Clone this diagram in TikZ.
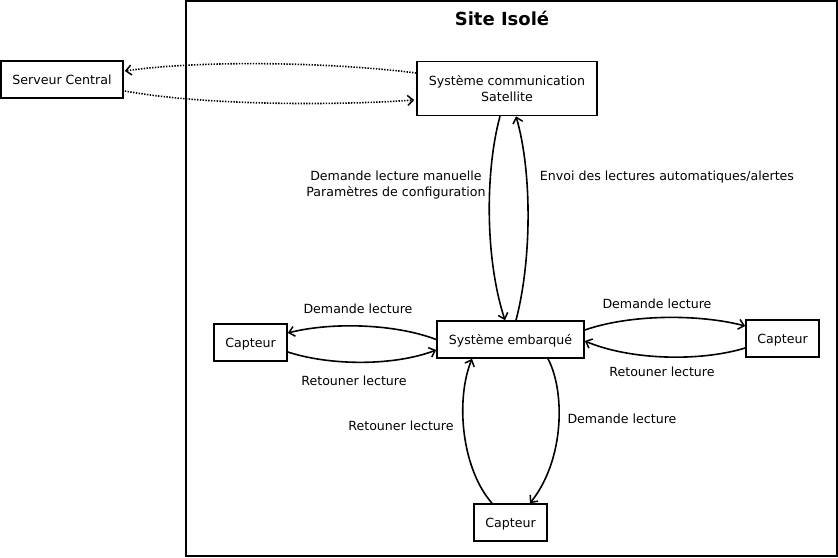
\documentclass[tikz,border=0pt]{standalone}
\usepackage{fontspec}
\setmainfont{DejaVu Sans}
\usetikzlibrary{arrows.meta,calc}
\begin{document}
\begin{tikzpicture}[x=1pt,y=-1pt,
  box/.style={draw,line width=1.6pt,inner sep=0pt,align=center,font=\fontsize{12.6}{16}\selectfont},
  onebox/.style={box,text height=9.5pt,text depth=0.5pt},
  lbl/.style={inner sep=0pt,align=center,font=\fontsize{12.6}{16}\selectfont},
  flow/.style={line width=1.6pt,-{Straight Barb[length=5.5pt,width=10pt,line width=1.5pt]}},
  dotflow/.style={flow,dash pattern=on 1.4pt off 1.4pt}]
\useasboundingbox (0,0) rectangle (838,557);
\draw[line width=1.7pt] (186,1) rectangle (837,556);
\node[font=\fontsize{18}{20}\selectfont\bfseries,inner sep=0pt] (title) at (502,18.5) {Site Isolé};
\node[onebox,minimum width=122pt,minimum height=37pt] (srv) at (62,79.5) {Serveur Central};
\node[box,minimum width=180pt,minimum height=54pt] (sat) at (507,88.5) {Système communication\\Satellite};
\node[onebox,minimum width=147pt,minimum height=37pt] (emb) at (510.5,339.5) {Système embarqué};
\node[onebox,minimum width=73pt,minimum height=37pt] (capL) at (250.5,342.5) {Capteur};
\node[onebox,minimum width=73pt,minimum height=37pt] (capR) at (782.5,338.5) {Capteur};
\node[onebox,minimum width=73pt,minimum height=37pt] (capB) at (510.5,522.5) {Capteur};
% satellite <-> server
\draw[dotflow] ($(sat.west)+(0,-15.5)$) .. controls +(-87,-11) and +(76,-11) .. ($(srv.east)+(1,-8.5)$);
\draw[dotflow] ($(srv.east)+(1,11.5)$) .. controls +(76,14) and +(-85,6) .. ($(sat.west)+(-2,11.5)$);
% satellite <-> embarque
\draw[flow] ($(sat.south)+(-7,0)$) .. controls +(-15,55) and +(-20,-61) .. ($(emb.north)+(-5.5,0)$);
\draw[flow] ($(emb.north)+(5.5,0)$) .. controls +(16,-61) and +(16,55) .. ($(sat.south)+(9,0)$);
% left capteur
\draw[flow] (emb.west) .. controls +(-42,-16) and +(43,-11) .. ($(capL.east)+(0,-9.5)$);
\draw[flow] ($(capL.east)+(0,9.5)$) .. controls +(43,14) and +(-42,16) .. ($(emb.west)+(0,10.5)$);
% right capteur
\draw[flow] ($(emb.east)+(0,-9.5)$) .. controls +(46,-16) and +(-46,-12) .. ($(capR.west)+(0,-12.5)$);
\draw[flow] ($(capR.west)+(0,9.5)$) .. controls +(-46,14) and +(45,19) .. ($(emb.east)+(0,1.5)$);
% bottom capteur
\draw[flow] ($(capB.north)+(-18.5,0)$) .. controls +(-30,-34) and +(-17,42) .. ($(emb.south)+(-38.5,0)$);
\draw[flow] ($(emb.south)+(37.5,0)$) .. controls +(17,32) and +(35,-44) .. ($(capB.north)+(19.5,0)$);
% labels
\node[lbl] (l1) at (396,185.5) {Demande lecture manuelle\\Paramètres de configuration};
\node[lbl] (l2) at (667,177.5) {Envoi des lectures automatiques/alertes};
\node[lbl] (l3) at (358,308.5) {Demande lecture};
\node[lbl] (l4) at (354,380.5) {Retouner lecture};
\node[lbl] (l5) at (657,303.5) {Demande lecture};
\node[lbl] (l6) at (662,371.5) {Retouner lecture};
\node[lbl] (l7) at (401,425.5) {Retouner lecture};
\node[lbl] (l8) at (622,418.5) {Demande lecture};
\end{tikzpicture}
\end{document}
